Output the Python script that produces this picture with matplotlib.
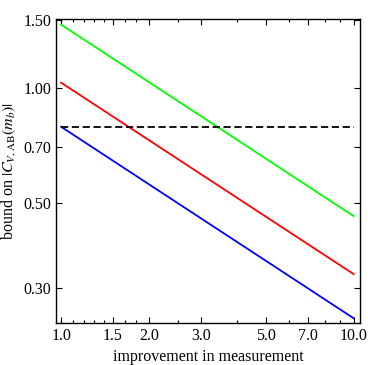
import matplotlib
matplotlib.use("Agg")
import matplotlib.pyplot as plt
from matplotlib.ticker import FixedLocator, NullFormatter, NullLocator, LogLocator

plt.rcParams['font.family'] = ['Liberation Serif', 'DejaVu Serif']
plt.rcParams['mathtext.fontset'] = 'stix'

x = [1.0, 10.0]
green = [1.46, 0.462]
red = [1.03, 0.326]
blue = [0.79, 0.25]
dashed = [0.79, 0.79]

xticks = [1.0, 1.5, 2.0, 3.0, 5.0, 7.0, 10.0]
yticks = [0.30, 0.50, 0.70, 1.00, 1.50]

fig = plt.figure(figsize=(3.68, 3.65), dpi=100)
ax = fig.add_axes([0.152, 0.115, 0.826, 0.833])

ax.plot(x, green, color=(0, 1, 0), lw=1.3)
ax.plot(x, red, color=(1, 0, 0), lw=1.3)
ax.plot(x, blue, color=(0, 0, 1), lw=1.3)
ax.plot(x, dashed, color='k', lw=1.3, ls=(0, (4, 2)))

ax.set_xscale('log')
ax.set_yscale('log')
ax.set_xlim(0.96, 10.5)
ax.set_ylim(0.243, 1.51)

ax.xaxis.set_major_locator(FixedLocator(xticks))
ax.xaxis.set_major_formatter(plt.FuncFormatter(lambda v, p: f"{v:.1f}"))
ax.xaxis.set_minor_locator(LogLocator(base=10, subs=[1.1, 1.2, 1.3, 1.4, 1.65, 1.8, 2.5, 4, 6, 8, 9]))
ax.xaxis.set_minor_formatter(NullFormatter())
ax.yaxis.set_major_locator(FixedLocator(yticks))
ax.yaxis.set_major_formatter(plt.FuncFormatter(lambda v, p: f"{v:.2f}"))
ax.yaxis.set_minor_locator(NullLocator())

ax.tick_params(which='both', direction='in', top=True, right=True, labelsize=11.5, width=0.8)
ax.tick_params(which='major', length=4)
ax.tick_params(which='minor', length=2)
for s in ax.spines.values():
    s.set_linewidth(1.0)

ax.set_xlabel('improvement in measurement', fontsize=11.5)
ax.set_ylabel(r'bound on $|C_{V,\mathrm{AB}}(m_b)|$', fontsize=11.5)

fig.savefig('out.png', dpi=100)
